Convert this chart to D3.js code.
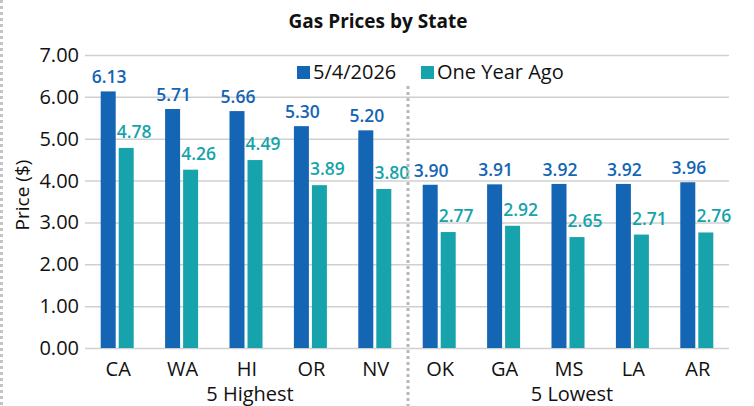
<!DOCTYPE html>
<html><head><meta charset="utf-8">
<script src="https://cdn.jsdelivr.net/npm/d3@7"></script>
<style>
html,body{margin:0;padding:0;background:#fff;}
svg{display:block;font-family:"Open Sans",sans-serif;}
</style></head>
<body>
<svg id="c" width="754" height="406"></svg>
<script>
const states = ["CA","WA","HI","OR","NV","OK","GA","MS","LA","AR"];
const current = [6.13,5.71,5.66,5.30,5.20,3.90,3.91,3.92,3.92,3.96];
const yearAgo = [4.78,4.26,4.49,3.89,3.80,2.77,2.92,2.65,2.71,2.76];
const groups = [{name:"5 Highest", from:0, to:4},{name:"5 Lowest", from:5, to:9}];
const yTicks = [0,1,2,3,4,5,6,7];
const seriesNames = ["5/4/2026","One Year Ago"];
const colors = ["#1565b5","#17a3ab"];

const svg = d3.select("#c");
const x = d3.scaleBand().domain(states).range([85,729]).padding(0);
const y = d3.scaleLinear().domain([0,7]).range([348,55]);

// left dashed border
svg.append("line").attr("x1",1.5).attr("x2",1.5).attr("y1",0).attr("y2",406)
  .attr("stroke","#c4c4c4").attr("stroke-width",3).attr("stroke-dasharray","3,3");

// gridlines
svg.append("g").selectAll("line").data(yTicks).join("line")
  .attr("x1",85).attr("x2",729).attr("y1",d=>y(d)+0.5).attr("y2",d=>y(d)+0.5)
  .attr("stroke","#d0d0d0").attr("stroke-width",1.5);

// y tick labels
svg.append("g").selectAll("text").data(yTicks).join("text")
  .attr("x",79).attr("y",d=>y(d)).attr("dy","0.35em").attr("text-anchor","end")
  .attr("font-size",20).attr("fill","#111").text(d=>d3.format(".2f")(d));

// y title
svg.append("text").attr("transform","translate(29,195) rotate(-90)")
  .attr("text-anchor","middle").attr("font-size",19).attr("fill","#111").text("Price ($)");

// title
svg.append("text").attr("x",378).attr("y",28).attr("text-anchor","middle")
  .attr("font-size",19).attr("font-weight",700).attr("fill","#111").text("Gas Prices by State");

const bw = 15, gap = 3;
const c = d => x(d) + x.bandwidth()/2;
// bars
svg.append("g").selectAll("rect").data(states).join("rect")
  .attr("x",(d)=>c(d)-bw-gap/2).attr("width",bw)
  .attr("y",(d,i)=>y(current[i])).attr("height",(d,i)=>y(0)-y(current[i]))
  .attr("fill",colors[0]);
svg.append("g").selectAll("rect").data(states).join("rect")
  .attr("x",(d)=>c(d)+gap/2).attr("width",bw)
  .attr("y",(d,i)=>y(yearAgo[i])).attr("height",(d,i)=>y(0)-y(yearAgo[i]))
  .attr("fill",colors[1]);

// value labels
svg.append("g").selectAll("text").data(states).join("text")
  .attr("x",d=>c(d)-bw/2-gap/2+1).attr("y",(d,i)=>y(current[i])-8)
  .attr("text-anchor","middle").attr("font-size",17.5).attr("font-weight",600)
  .attr("fill",colors[0]).text((d,i)=>current[i].toFixed(2));
svg.append("g").selectAll("text").data(states).join("text")
  .attr("x",d=>c(d)+gap/2+bw/2+8).attr("y",(d,i)=>y(yearAgo[i])-10)
  .attr("text-anchor","middle").attr("font-size",17.5).attr("font-weight",600)
  .attr("fill",colors[1]).text((d,i)=>yearAgo[i].toFixed(2));

// category labels
svg.append("g").selectAll("text").data(states).join("text")
  .attr("x",d=>c(d)+1).attr("y",376).attr("text-anchor","middle")
  .attr("font-size",20).attr("fill","#111").text(d=>d);

// group labels
svg.append("g").selectAll("text").data(groups).join("text")
  .attr("x",g=>(x(states[g.from]) + x(states[g.to]) + x.bandwidth())/2 + 4)
  .attr("y",401).attr("text-anchor","middle").attr("font-size",20).attr("fill","#111")
  .text(g=>g.name);

// divider
const divX = (x(states[4]) + x.bandwidth() + x(states[5]))/2 + 1;
svg.append("line").attr("x1",divX).attr("x2",divX).attr("y1",86).attr("y2",406)
  .attr("stroke","#b8b8b8").attr("stroke-width",3).attr("stroke-dasharray","3,3");

// legend
const legX = [297,421];
const lg = svg.append("g").selectAll("g").data(seriesNames).join("g")
  .attr("transform",(d,i)=>`translate(${legX[i]},66)`);
lg.append("rect").attr("width",13).attr("height",13).attr("fill",(d,i)=>colors[i]);
lg.append("text").attr("x",16).attr("y",12.5).attr("font-size",20).attr("fill","#111").text(d=>d);
</script>
</body></html>
